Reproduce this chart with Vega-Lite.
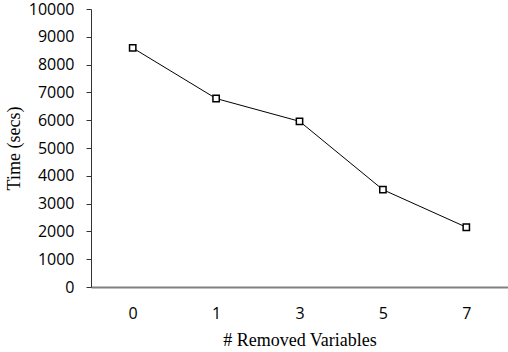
{
  "$schema": "https://vega.github.io/schema/vega-lite/v6.json",
  "width": 417,
  "height": 278,
  "autosize": "none",
  "padding": {"left": 91, "top": 9, "right": 0, "bottom": 65},
  "background": "white",
  "config": {"view": {"stroke": null}},
  "data": {
    "values": [
      {"removed": "0", "time": 8600},
      {"removed": "1", "time": 6780},
      {"removed": "3", "time": 5960},
      {"removed": "5", "time": 3500},
      {"removed": "7", "time": 2150}
    ]
  },
  "encoding": {
    "x": {
      "field": "removed",
      "type": "ordinal",
      "sort": null,
      "scale": {"paddingInner": 0, "paddingOuter": 0},
      "axis": {
        "title": "# Removed Variables",
        "titleFont": "Liberation Serif",
        "titleFontSize": 18,
        "titleFontWeight": "normal",
        "titleColor": "#000",
        "titlePadding": 10,
        "labelFont": "Open Sans",
        "labelFontSize": 16,
        "labelColor": "#000",
        "labelAngle": 0,
        "labelPadding": 18,
        "ticks": false,
        "domainColor": "#808080",
        "domainWidth": 2
      }
    },
    "y": {
      "field": "time",
      "type": "quantitative",
      "scale": {"domain": [0, 10000], "nice": false},
      "axis": {
        "title": "Time (secs)",
        "titleFont": "Liberation Serif",
        "titleFontSize": 18,
        "titleFontWeight": "normal",
        "titleColor": "#000",
        "titlePadding": 5,
        "values": [0, 1000, 2000, 3000, 4000, 5000, 6000, 7000, 8000, 9000, 10000],
        "format": "d",
        "labelFont": "Open Sans",
        "labelFontSize": 16,
        "labelColor": "#000",
        "labelPadding": 12,
        "tickSize": 5,
        "tickColor": "#333",
        "domainColor": "#333",
        "grid": false
      }
    }
  },
  "layer": [
    {"mark": {"type": "line", "color": "#000", "strokeWidth": 1}},
    {"mark": {"type": "point", "shape": "square", "size": 40, "filled": true, "fill": "white", "stroke": "#000", "strokeWidth": 1.5, "opacity": 1}}
  ]
}
